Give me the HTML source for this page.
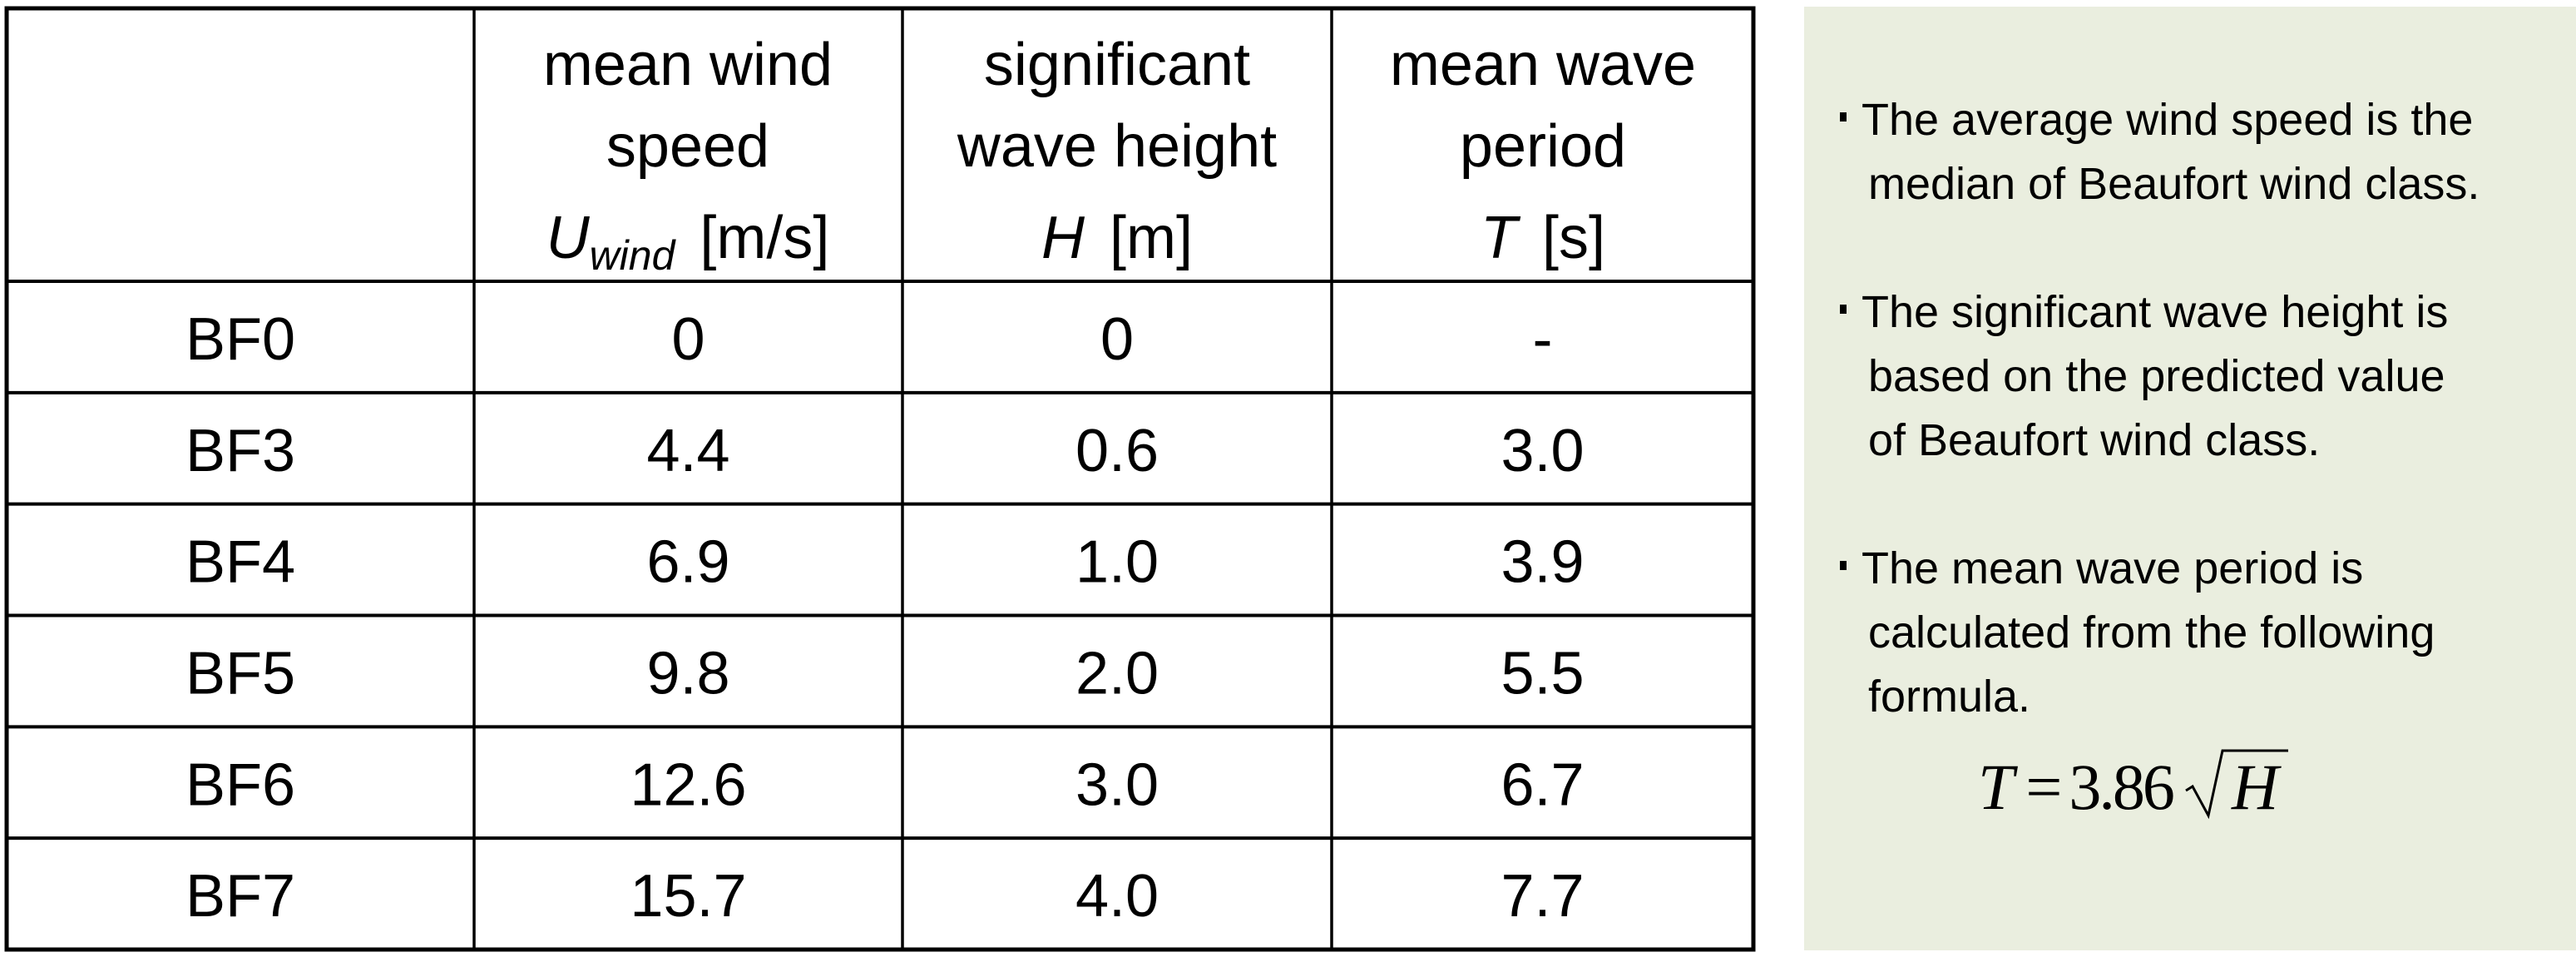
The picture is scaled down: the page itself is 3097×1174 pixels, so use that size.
<!DOCTYPE html>
<html><head><meta charset="utf-8"><style>
html,body{margin:0;padding:0;background:#fff;}
svg{display:block;font-family:"Liberation Sans",sans-serif;}
</style></head><body>
<svg width="3097" height="1174" viewBox="0 0 3097 1174">
<rect x="2169" y="8" width="928" height="1134" fill="#EAEEDF"/>
<g id="grid" stroke="#000" fill="none">
<rect x="8" y="10" width="2100" height="1131" stroke-width="5"/>
</g>
<g id="cells" font-size="72" text-anchor="middle" fill="#000"></g>
<g font-size="72" text-anchor="middle">
<text x="827" y="102">mean wind</text>
<text x="827" y="200">speed</text>
<text x="827" y="310"><tspan font-style="italic">U</tspan><tspan font-style="italic" font-size="50" dy="14">wind</tspan><tspan dy="-14" dx="30">[m/s]</tspan></text>
<text x="1343" y="102">significant</text>
<text x="1343" y="200">wave height</text>
<text x="1343" y="310"><tspan font-style="italic">H</tspan><tspan dx="30">[m]</tspan></text>
<text x="1855" y="102">mean wave</text>
<text x="1855" y="200">period</text>
<text x="1855" y="310"><tspan font-style="italic">T</tspan><tspan dx="30">[s]</tspan></text>
</g>
<g font-size="54" fill="#000">
<rect x="2212" y="135" width="8" height="11"/>
<text x="2238" y="162">The average wind speed is the</text>
<text x="2246" y="239">median of Beaufort wind class.</text>
<rect x="2212" y="366" width="8" height="11"/>
<text x="2238" y="393">The significant wave height is</text>
<text x="2246" y="470">based on the predicted value</text>
<text x="2246" y="547">of Beaufort wind class.</text>
<rect x="2212" y="674" width="8" height="11"/>
<text x="2238" y="701">The mean wave period is</text>
<text x="2246" y="778">calculated from the following</text>
<text x="2246" y="855">formula.</text>
</g>
<g font-family="'Liberation Serif',serif" font-size="78">
<text x="2378" y="972"><tspan font-style="italic">T</tspan><tspan dx="14">=</tspan><tspan dx="8" letter-spacing="-3">3.86</tspan></text>
<path d="M2628 950 L2636 945 L2655 980 L2672 902 L2751 902" stroke="#000" stroke-width="3" fill="none"/>
<text x="2683" y="972" font-style="italic">H</text>
</g>
</svg>
<script>
const rowLabels = ["BF0","BF3","BF4","BF5","BF6","BF7"];
const windSpeed = ["0","4.4","6.9","9.8","12.6","15.7"];
const waveHeight = ["0","0.6","1.0","2.0","3.0","4.0"];
const wavePeriod = ["-","3.0","3.9","5.5","6.7","7.7"];
const NS = "http://www.w3.org/2000/svg";
const colX = [8, 570, 1085, 1601, 2108];
const headerBottom = 338, tableBottom = 1141;
const rowH = (tableBottom - headerBottom) / rowLabels.length;
const grid = document.getElementById('grid');
const cells = document.getElementById('cells');
for (let i = 1; i < colX.length - 1; i++) {
  const l = document.createElementNS(NS, 'line');
  l.setAttribute('x1', colX[i]); l.setAttribute('x2', colX[i]);
  l.setAttribute('y1', 10); l.setAttribute('y2', tableBottom);
  l.setAttribute('stroke-width', 3.5);
  
  
  grid.appendChild(l);
}
for (let r = 0; r < rowLabels.length; r++) {
  const y = headerBottom + r * rowH;
  const l = document.createElementNS(NS, 'line');
  l.setAttribute('x1', 8); l.setAttribute('x2', 2108);
  l.setAttribute('y1', y); l.setAttribute('y2', y);
  l.setAttribute('stroke-width', 4);
  
  
  grid.appendChild(l);
  const vals = [rowLabels[r], windSpeed[r], waveHeight[r], wavePeriod[r]];
  for (let c = 0; c < 4; c++) {
    const t = document.createElementNS(NS, 'text');
    t.setAttribute('x', (colX[c] + colX[c + 1]) / 2);
    t.setAttribute('y', y + rowH / 2 + 27);
    t.textContent = vals[c];
    
    
    cells.appendChild(t);
  }
}
</script>
</body></html>
